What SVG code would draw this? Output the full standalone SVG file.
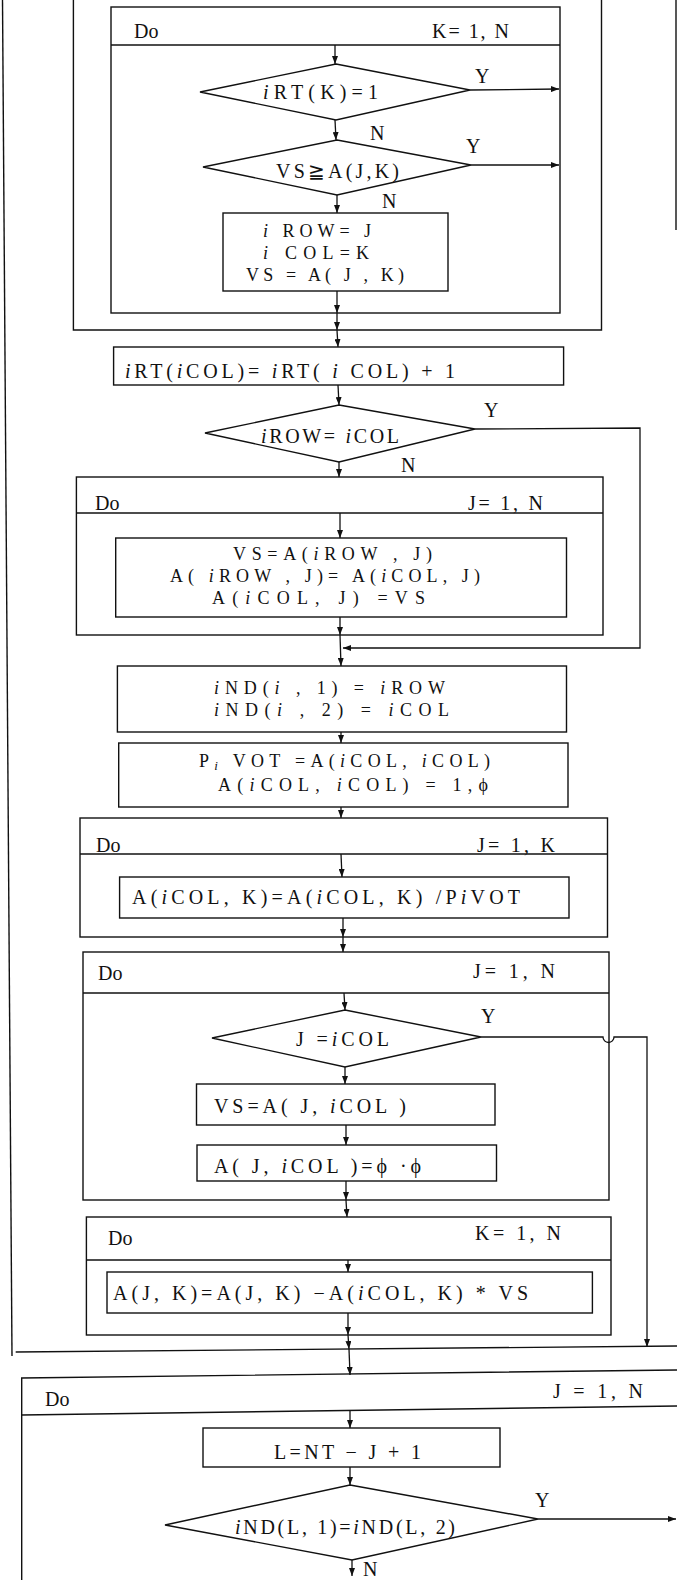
<svg xmlns="http://www.w3.org/2000/svg" width="677" height="1580" viewBox="0 0 677 1580">
<style>
.b{fill:none;stroke:#111;stroke-width:1.4}
.c{fill:none;stroke:#111;stroke-width:1.3}
.t{font-family:"Liberation Serif","DejaVu Serif",serif;font-size:20px;fill:#111}
.s{font-size:18px}
.i{font-style:italic}
</style>
<defs>
<marker id="ah" markerWidth="8" markerHeight="6" refX="8" refY="3" orient="auto" markerUnits="userSpaceOnUse"><path d="M0,0 L8,3 L0,6 z" fill="#111"/></marker>
</defs>
<rect width="677" height="1580" fill="#fff"/>

<g id="frame">
<path class="b" d="M2.5,0 L12,1356"/>
<path class="b" d="M73.4,0 L73.4,330 L601.5,330 L601.5,0"/>
<path class="b" d="M676,0 L676,230"/>
</g>

<g id="loopK1">
<rect class="b" x="111" y="7" width="449" height="306"/>
<path class="b" d="M111,45 L560,45"/>
<text class="t" x="134" y="38">Do</text>
<text class="t" x="432" y="38" textLength="77" lengthAdjust="spacing">K= 1, N</text>
</g>
<g id="d1">
<polygon class="b" points="336,64 470,90 336,120 200,92"/>
<text class="t" x="263" y="99" textLength="115" lengthAdjust="spacing"><tspan class="i">i</tspan>RT(K)=1</text>
</g>
<g id="d2">
<polygon class="b" points="337,140 471,165 337,195 203,167"/>
<text class="t" x="276" y="178" textLength="123" lengthAdjust="spacing">VS≧A(J,K)</text>
</g>
<g id="p1">
<rect class="b" x="223" y="213" width="225" height="78"/>
<text class="t s" x="263" y="237" textLength="108" lengthAdjust="spacing"><tspan class="i">i</tspan> ROW= J</text>
<text class="t s" x="263" y="259" textLength="106" lengthAdjust="spacing"><tspan class="i">i</tspan> COL=K</text>
<text class="t s" x="246" y="281" textLength="158" lengthAdjust="spacing">VS = A( J , K)</text>
</g>

<g id="p2">
<rect class="b" x="113.6" y="347" width="450" height="38"/>
<text class="t" x="125" y="378" textLength="330" lengthAdjust="spacing"><tspan class="i">i</tspan>RT(<tspan class="i">i</tspan>COL)= <tspan class="i">i</tspan>RT( <tspan class="i">i</tspan> COL) + 1</text>
</g>
<g id="d3">
<polygon class="b" points="339,405 475,429 339,462 205,433"/>
<text class="t" x="261" y="443" textLength="138" lengthAdjust="spacing"><tspan class="i">i</tspan>ROW= <tspan class="i">i</tspan>COL</text>
</g>
<g id="loopJ1">
<rect class="b" x="76.4" y="477" width="526.6" height="158"/>
<path class="b" d="M76.4,513 L603,513"/>
<text class="t" x="95" y="510">Do</text>
<text class="t" x="468" y="510" textLength="75" lengthAdjust="spacing">J= 1, N</text>
</g>
<g id="p3">
<rect class="b" x="115.7" y="538" width="450.8" height="79"/>
<text class="t s" x="233" y="560" textLength="199" lengthAdjust="spacing">VS=A(<tspan class="i">i</tspan>ROW , J)</text>
<text class="t s" x="170" y="582" textLength="310" lengthAdjust="spacing">A( <tspan class="i">i</tspan>ROW , J)= A(<tspan class="i">i</tspan>COL, J)</text>
<text class="t s" x="212" y="604" textLength="213" lengthAdjust="spacing">A(<tspan class="i">i</tspan>COL, J) =VS</text>
</g>

<g id="p4">
<rect class="b" x="117.4" y="666" width="449.1" height="66"/>
<text class="t s" x="214" y="694" textLength="231" lengthAdjust="spacing"><tspan class="i">i</tspan>ND(<tspan class="i">i</tspan> , 1) = <tspan class="i">i</tspan>ROW</text>
<text class="t s" x="214" y="716" textLength="235" lengthAdjust="spacing"><tspan class="i">i</tspan>ND(<tspan class="i">i</tspan> , 2) = <tspan class="i">i</tspan>COL</text>
</g>
<g id="p5">
<rect class="b" x="118.7" y="743" width="449.3" height="64"/>
<text class="t s" x="199" y="767" textLength="291" lengthAdjust="spacing">P<tspan class="i" font-size="13" dy="3">i</tspan><tspan dy="-3"> VOT =A(</tspan><tspan class="i">i</tspan>COL, <tspan class="i">i</tspan>COL)</text>
<text class="t s" x="218" y="791" textLength="270" lengthAdjust="spacing">A(<tspan class="i">i</tspan>COL, <tspan class="i">i</tspan>COL) = 1,ϕ</text>
</g>
<g id="loopJ2">
<rect class="b" x="80" y="818" width="527.5" height="119"/>
<path class="b" d="M80,854 L607.5,854"/>
<text class="t" x="96" y="852">Do</text>
<text class="t" x="477" y="852" textLength="78" lengthAdjust="spacing">J= 1, K</text>
</g>
<g id="p6">
<rect class="b" x="119.6" y="877" width="449.4" height="41"/>
<text class="t" x="132" y="904" textLength="388" lengthAdjust="spacing">A(<tspan class="i">i</tspan>COL, K)=A(<tspan class="i">i</tspan>COL, K) /P<tspan class="i">i</tspan>VOT</text>
</g>

<g id="loopJ3">
<rect class="b" x="83" y="952" width="526" height="248"/>
<path class="b" d="M83,993 L609,993"/>
<text class="t" x="98" y="980">Do</text>
<text class="t" x="473" y="978" textLength="82" lengthAdjust="spacing">J= 1, N</text>
</g>
<g id="d4">
<polygon class="b" points="345,1010 481,1037 345,1067 212,1038"/>
<text class="t" x="296" y="1046" textLength="93" lengthAdjust="spacing">J =<tspan class="i">i</tspan>COL</text>
</g>
<g id="p7">
<rect class="b" x="196.5" y="1084" width="298.5" height="41"/>
<text class="t" x="214" y="1113" textLength="192" lengthAdjust="spacing">VS=A( J, <tspan class="i">i</tspan>COL )</text>
</g>
<g id="p8">
<rect class="b" x="197" y="1145" width="299.5" height="36"/>
<text class="t" x="214" y="1173" textLength="207" lengthAdjust="spacing">A( J, <tspan class="i">i</tspan>COL )=ϕ ·ϕ</text>
</g>
<g id="loopK2">
<rect class="b" x="86.4" y="1217" width="524.6" height="118"/>
<path class="b" d="M86.4,1260 L611,1260"/>
<text class="t" x="108" y="1245">Do</text>
<text class="t" x="475" y="1240" textLength="86" lengthAdjust="spacing">K= 1, N</text>
</g>
<g id="p9">
<rect class="b" x="107" y="1272" width="485.4" height="41"/>
<text class="t" x="113" y="1300" textLength="415" lengthAdjust="spacing">A(J, K)=A(J, K) −A(<tspan class="i">i</tspan>COL, K) * VS</text>
</g>

<g id="loopJ4">
<path class="b" d="M677,1370 L21.7,1378 L21.7,1580"/>
<path class="b" d="M21.7,1415 L677,1406"/>
<text class="t" x="45" y="1406">Do</text>
<text class="t" x="553" y="1398" textLength="90" lengthAdjust="spacing">J = 1, N</text>
</g>
<g id="p10">
<rect class="b" x="203" y="1428" width="297" height="39"/>
<text class="t" x="274" y="1459" textLength="147" lengthAdjust="spacing">L=NT − J + 1</text>
</g>
<g id="d5">
<polygon class="b" points="350,1485 538,1519 352,1560 165,1525"/>
<text class="t" x="235" y="1534" textLength="220" lengthAdjust="spacing"><tspan class="i">i</tspan>ND(L, 1)=<tspan class="i">i</tspan>ND(L, 2)</text>
</g>

<g id="connectors">
<path class="c" d="M335,45 L335,64" marker-end="url(#ah)"/>
<path class="c" d="M335,120 L336,140" marker-end="url(#ah)"/>
<path class="c" d="M337,195 L337,213" marker-end="url(#ah)"/>
<path class="c" d="M337,291 L337,313" marker-end="url(#ah)"/>
<path class="c" d="M337,313 L337,330" marker-end="url(#ah)"/>
<path class="c" d="M337,330 L338,347" marker-end="url(#ah)"/>
<path class="c" d="M470,90 L559,89" marker-end="url(#ah)"/>
<path class="c" d="M471,165 L559,165" marker-end="url(#ah)"/>
<path class="c" d="M338,385 L339,405" marker-end="url(#ah)"/>
<path class="c" d="M339,462 L339,477" marker-end="url(#ah)"/>
<path class="c" d="M340,513 L340,538" marker-end="url(#ah)"/>
<path class="c" d="M340,617 L340,635" marker-end="url(#ah)"/>
<path class="c" d="M340,635 L341,666" marker-end="url(#ah)"/>
<path class="c" d="M475,429 L640,428 L640,648 L343,648" marker-end="url(#ah)"/>
<path class="c" d="M341,732 L341,743" marker-end="url(#ah)"/>
<path class="c" d="M341,807 L341,818" marker-end="url(#ah)"/>
<path class="c" d="M341,854 L342,877" marker-end="url(#ah)"/>
<path class="c" d="M343,918 L343,937" marker-end="url(#ah)"/>
<path class="c" d="M343,937 L343,952" marker-end="url(#ah)"/>
<path class="c" d="M344,993 L345,1010" marker-end="url(#ah)"/>
<path class="c" d="M345,1067 L345,1084" marker-end="url(#ah)"/>
<path class="c" d="M346,1125 L346,1145" marker-end="url(#ah)"/>
<path class="c" d="M346,1181 L346,1200" marker-end="url(#ah)"/>
<path class="c" d="M346,1200 L347,1217" marker-end="url(#ah)"/>
<path class="c" d="M348,1260 L348,1272" marker-end="url(#ah)"/>
<path class="c" d="M348,1313 L348,1335" marker-end="url(#ah)"/>
<path class="c" d="M348,1335 L349,1349" marker-end="url(#ah)"/>
<path class="c" d="M481,1037 L603,1037 A5,5 0 0 0 614,1037 L647,1037 L647,1347" marker-end="url(#ah)"/>
<path class="c" d="M15.7,1352 L677,1346"/>
<path class="c" d="M349,1349 L350,1375" marker-end="url(#ah)"/>
<path class="c" d="M350,1411 L350,1428" marker-end="url(#ah)"/>
<path class="c" d="M350,1467 L350,1485" marker-end="url(#ah)"/>
<path class="c" d="M538,1519 L676,1519" marker-end="url(#ah)"/>
<path class="c" d="M352,1560 L352,1576" marker-end="url(#ah)"/>
<text class="t" x="475" y="83">Y</text>
<text class="t" x="370" y="140">N</text>
<text class="t" x="466" y="153">Y</text>
<text class="t" x="382" y="208">N</text>
<text class="t" x="484" y="417">Y</text>
<text class="t" x="401" y="472">N</text>
<text class="t" x="481" y="1023">Y</text>
<text class="t" x="535" y="1507">Y</text>
<text class="t" x="363" y="1576">N</text>
</g>
</svg>
